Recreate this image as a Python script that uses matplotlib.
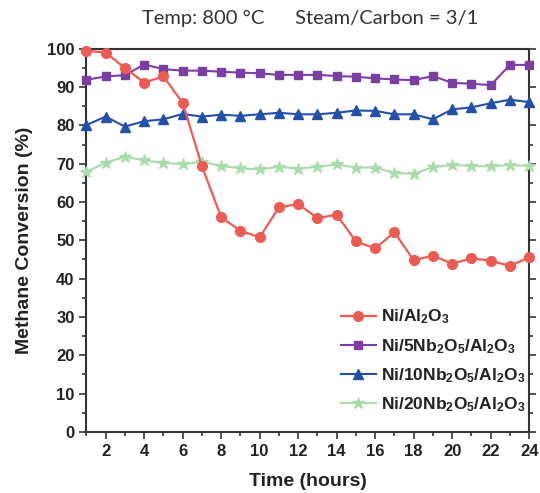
import matplotlib.pyplot as plt
from matplotlib.ticker import MultipleLocator

# data
hours = list(range(1, 25))
ni_al2o3 = [99.5, 99.0, 95.0, 91.2, 92.8, 85.9, 69.4, 56.0, 52.5, 50.8, 58.6, 59.5,
            55.8, 56.7, 49.7, 47.9, 52.1, 44.8, 46.0, 43.9, 45.3, 44.7, 43.3, 45.6]
ni_5nb = [91.9, 92.8, 93.1, 95.9, 94.7, 94.3, 94.3, 94.0, 93.8, 93.6, 93.2, 93.2,
          93.2, 92.9, 92.7, 92.3, 92.0, 91.8, 92.9, 91.1, 90.9, 90.5, 95.8, 95.8]
ni_10nb = [80.1, 82.3, 79.7, 81.1, 81.6, 83.0, 82.3, 82.8, 82.5, 82.9, 83.3, 82.9,
           82.9, 83.3, 83.9, 83.8, 82.9, 82.9, 81.6, 84.2, 84.7, 85.8, 86.7, 86.1]
ni_20nb = [67.9, 70.3, 71.8, 70.9, 70.2, 69.9, 70.5, 69.4, 68.8, 68.5, 69.2, 68.7,
           69.2, 69.8, 69.0, 69.0, 67.6, 67.4, 69.1, 69.7, 69.4, 69.3, 69.7, 69.4]
labels = [r'Ni/Al$_2$O$_3$',
          r'Ni/5Nb$_2$O$_5$/Al$_2$O$_3$',
          r'Ni/10Nb$_2$O$_5$/Al$_2$O$_3$',
          r'Ni/20Nb$_2$O$_5$/Al$_2$O$_3$']

plt.rcParams['font.family'] = ['Liberation Sans', 'DejaVu Sans']
plt.rcParams['mathtext.fontset'] = 'custom'
plt.rcParams['mathtext.rm'] = 'Liberation Sans:bold'
plt.rcParams['mathtext.it'] = 'Liberation Sans:bold'
plt.rcParams['mathtext.bf'] = 'Liberation Sans:bold'

fig = plt.figure(figsize=(5.4, 4.93), dpi=100)
ax = fig.add_axes([0.160, 0.124, 0.820, 0.777])

ax.plot(hours, ni_al2o3, color='#ef5a52', marker='o', ms=7, lw=1.6, label=labels[0], clip_on=False, zorder=5)
ax.plot(hours, ni_5nb, color='#7b3fa3', marker='s', ms=6, lw=1.5, label=labels[1], clip_on=False, zorder=4)
ax.plot(hours, ni_10nb, color='#2350a8', marker='^', ms=7.5, lw=1.5, label=labels[2], clip_on=False, zorder=4)
ax.plot(hours, ni_20nb, color='#a9dcaa', marker='*', ms=9, lw=1.5, label=labels[3], clip_on=False, zorder=3)

ax.set_xlim(1, 24)
ax.set_ylim(0, 100)
ax.xaxis.set_major_locator(MultipleLocator(2))
ax.xaxis.set_minor_locator(MultipleLocator(1))
ax.yaxis.set_major_locator(MultipleLocator(10))
ax.yaxis.set_minor_locator(MultipleLocator(5))
ax.tick_params(which='both', direction='out', colors='#333333', width=1.2, labelsize=12)
ax.tick_params(which='major', length=5)
ax.tick_params(which='minor', length=3)
ax.tick_params(axis='y', which='both', right=True, labelright=False)
for lbl in ax.get_xticklabels() + ax.get_yticklabels():
    lbl.set_fontweight('bold')
    lbl.set_color('#222222')
for s in ax.spines.values():
    s.set_linewidth(1.5)
    s.set_color('#333333')

ax.set_xlabel('Time (hours)', fontsize=14, fontweight='bold', color='#222222', labelpad=10)
ax.set_ylabel('Methane Conversion (%)', fontsize=14, fontweight='bold', color='#222222', labelpad=10)

fig.text(0.574, 0.963, 'Temp: 800 °C      Steam/Carbon = 3/1', ha='center', va='center',
         fontsize=14.5, color='#333333', family=['Lato', 'DejaVu Sans'])

leg = ax.legend(loc='lower right', bbox_to_anchor=(1.015, 0.02), frameon=False, numpoints=1,
                fontsize=12.5, handlelength=2.0, handletextpad=0.3, labelspacing=0.6,
                borderaxespad=0.2)
for t in leg.get_texts():
    t.set_fontweight('bold')
    t.set_color('#222222')

fig.savefig('out.png', dpi=100)
